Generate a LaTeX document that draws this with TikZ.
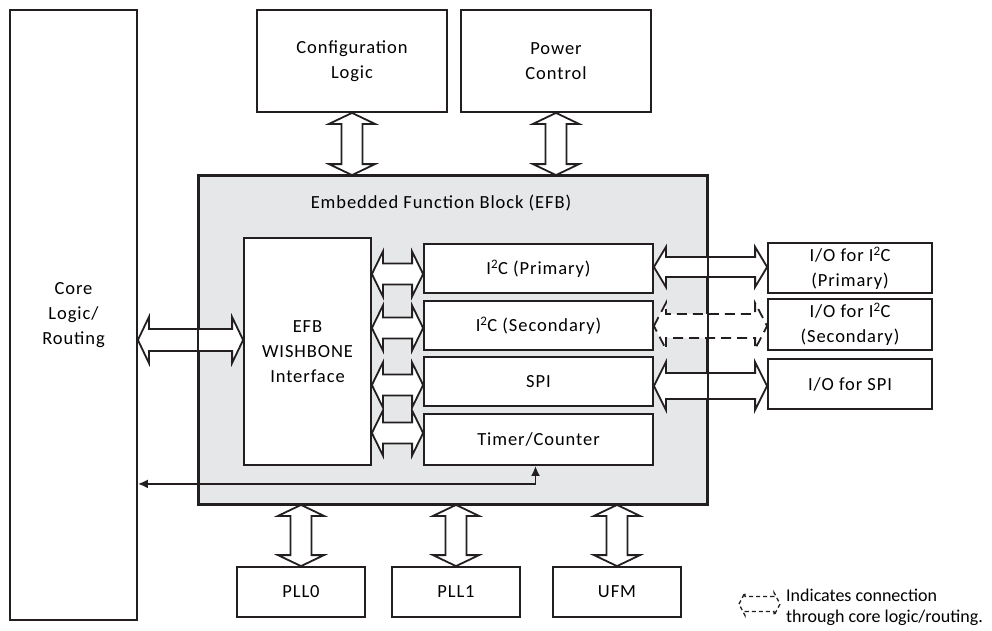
\documentclass[tikz,border=0pt]{standalone}
\usepackage{fontspec}
\setmainfont{Carlito}[LetterSpace=5]
\newfontfamily\legendfont{Carlito}
\usetikzlibrary{calc,arrows.meta}
\definecolor{ln}{HTML}{231F20}
\definecolor{efbgray}{HTML}{E6E7E8}
% horizontal double block arrow: style, left point, right point, shaft half, head half, head length
\newcommand\hba[6]{\draw[barrow,#1] let \p1=(#2), \p2=(#3) in
  (\x1,\y1) -- (\x1+#6pt,\y1+#5pt) -- (\x1+#6pt,\y1+#4pt) -- (\x2-#6pt,\y1+#4pt) -- (\x2-#6pt,\y1+#5pt) --
  (\x2,\y1) -- (\x2-#6pt,\y1-#5pt) -- (\x2-#6pt,\y1-#4pt) -- (\x1+#6pt,\y1-#4pt) -- (\x1+#6pt,\y1-#5pt) -- cycle;}
% vertical double block arrow: style, top point, bottom point, shaft half, head half, head length
\newcommand\vba[6]{\draw[barrow,#1] let \p1=(#2), \p2=(#3) in
  (\x1,\y1) -- (\x1+#5pt,\y1-#6pt) -- (\x1+#4pt,\y1-#6pt) -- (\x1+#4pt,\y2+#6pt) -- (\x1+#5pt,\y2+#6pt) --
  (\x1,\y2) -- (\x1-#5pt,\y2+#6pt) -- (\x1-#4pt,\y2+#6pt) -- (\x1-#4pt,\y1-#6pt) -- (\x1-#5pt,\y1-#6pt) -- cycle;}
\begin{document}
\begin{tikzpicture}[x=1pt,y=-1pt,
  box/.style={draw=ln,line width=1.8pt,fill=white,inner sep=0pt,align=center,
    font=\fontsize{18.5}{25}\selectfont},
  barrow/.style={draw=ln,line width=1.8pt,fill=white,line join=miter},
  dasharrow/.style={dash pattern=on 10pt off 6pt},
  legarrow/.style={line width=1.3pt,dash pattern=on 4pt off 3pt},
  thinarrow/.style={draw=ln,line width=1.9pt,{Latex[length=10pt,width=9pt]}-{Latex[length=10pt,width=9pt]}},
  ]
\useasboundingbox (0,0) rectangle (992,630);
\fill[white] (0,0) rectangle (992,630);

% boxes
\node[box,minimum width=127pt,minimum height=610pt] (core) at (73.5,315) {Core\\Logic/\\Routing};
\node[box,minimum width=190pt,minimum height=102pt] (cfg) at (352,61) {Configuration\\Logic};
\node[box,minimum width=190pt,minimum height=102pt] (pwr) at (556,61) {Power\\Control};
\node[box,fill=efbgray,minimum width=508pt,minimum height=328pt] (efb) at (453,340) {};
\node[font=\fontsize{18.5}{25}\selectfont] (efbt) at (441,203) {Embedded Function Block (EFB)};
\node[box,minimum width=127pt,minimum height=227pt] (wb) at (307.5,351.5) {EFB\\WISHBONE\\Interface};
\node[box,minimum width=229pt,minimum height=49pt] (i2cp) at (538.5,268.5) {I\textsuperscript{2}C (Primary)};
\node[box,minimum width=229pt,minimum height=49pt] (i2cs) at (538.5,325.5) {I\textsuperscript{2}C (Secondary)};
\node[box,minimum width=229pt,minimum height=49pt] (spi) at (538.5,381.5) {SPI};
\node[box,minimum width=229pt,minimum height=51pt] (tmr) at (538.5,439.5) {Timer/Counter};
\node[box,minimum width=164pt,minimum height=50pt] (iop) at (850,268) {I/O for I\textsuperscript{2}C\\(Primary)};
\node[box,minimum width=164pt,minimum height=51pt] (ios) at (850,324.5) {I/O for I\textsuperscript{2}C\\(Secondary)};
\node[box,minimum width=164pt,minimum height=50pt] (iospi) at (850,384) {I/O for SPI};
\node[box,minimum width=128pt,minimum height=50pt] (pll0) at (301,592) {PLL0};
\node[box,minimum width=128pt,minimum height=50pt] (pll1) at (456,592) {PLL1};
\node[box,minimum width=128pt,minimum height=50pt] (ufm) at (617,592) {UFM};

% helper coordinates for arrow heights
\coordinate (yc) at (0,340);
\coordinate (y1) at (0,274);
\coordinate (y2) at (0,328);
\coordinate (y3) at (0,385);
\coordinate (y4) at (0,433);
\coordinate (r1) at (0,267);
\coordinate (r2) at (0,326);
\coordinate (r3) at (0,386);

% block arrows
\hba{}{core.east |- yc}{wb.west |- yc}{11}{23}{11}
\hba{}{wb.east |- y1}{i2cp.west |- y1}{10.5}{22.5}{11}
\hba{}{wb.east |- y2}{i2cs.west |- y2}{10.5}{22.5}{11}
\hba{}{wb.east |- y3}{spi.west |- y3}{10.5}{22.5}{11}
\hba{}{wb.east |- y4}{tmr.west |- y4}{10.5}{22.5}{11}
\hba{}{i2cp.east |- r1}{iop.west |- r1}{10}{20}{12}
\hba{dasharrow}{i2cs.east |- r2}{ios.west |- r2}{12}{23}{12}
\hba{}{spi.east |- r3}{iospi.west |- r3}{13}{24}{12}
\vba{}{cfg.south}{cfg.south |- efb.north}{10.5}{23}{11}
\vba{}{pwr.south}{pwr.south |- efb.north}{10.5}{23}{11}
\vba{}{pll0.north |- efb.south}{pll0.north}{10.5}{23}{11}
\vba{}{pll1.north |- efb.south}{pll1.north}{10.5}{23}{11}
\vba{}{ufm.north |- efb.south}{ufm.north}{10.5}{23}{11}

% EFB border on top of crossing arrows
\draw[draw=ln,line width=1.8pt] (efb.north west) rectangle (efb.south east);

% thin connector timer -> core
\coordinate (tc) at ([xshift=-3pt]tmr.south);
\coordinate (tb) at ([xshift=-3pt,yshift=-18pt]tmr.south);
\draw[thinarrow] (tc) -- (tb) -- (core.east |- tb);

% legend
\coordinate (lgA) at (739,604);
\coordinate (lgB) at (780,604);
\hba{legarrow}{lgA}{lgB}{7.5}{11.5}{6}
\node[font=\legendfont\fontsize{18}{21}\selectfont,anchor=west,align=left,inner sep=0pt] (lgt) at (786,607)
  {Indicates connection\\through core logic/routing.};
\end{tikzpicture}
\end{document}
